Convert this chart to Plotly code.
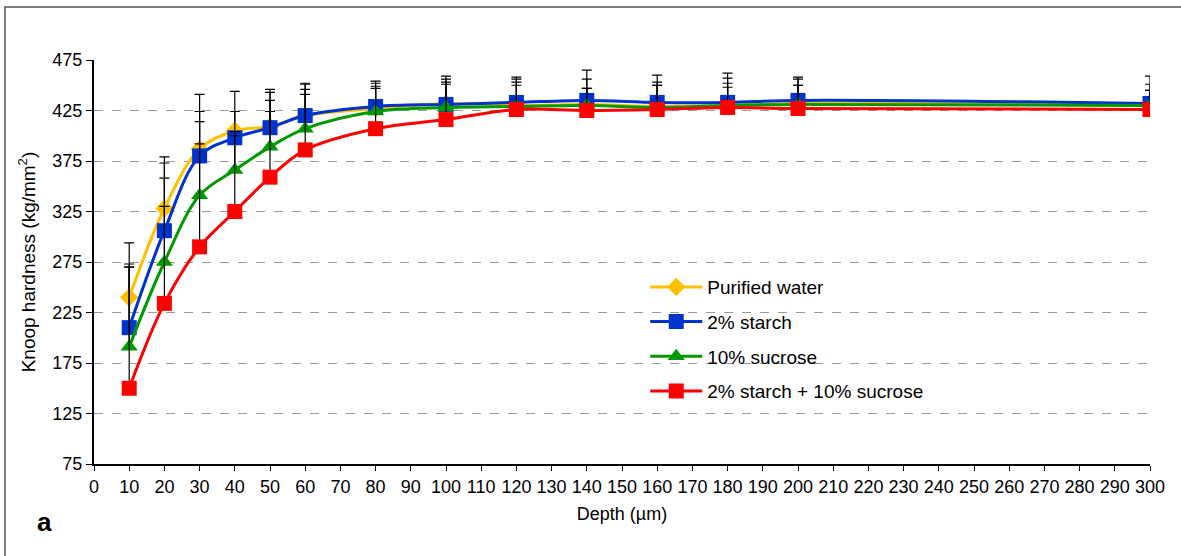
import plotly.graph_objects as go

depth = [10, 20, 30, 40, 50, 60, 80, 100, 120, 140, 160, 180, 200, 300]

water = [240, 328, 387, 405, 409, 420, 427, 432, 430, 431, 429, 430, 432, 430]
starch = [210, 306, 380, 398, 408, 420, 429, 431, 433, 435, 433, 433, 435, 432]
sucrose = [191, 275, 341, 366, 389, 407, 424, 428, 429, 430, 428, 430, 431, 430]
mixed = [150, 234, 290, 325, 359, 386, 407, 416, 426, 425, 426, 428, 427, 426]

water_err = [54, 51, 54, 39, 37, 32, 27, 24, 23, 25, 24, 27, 24, 21]
starch_err = [63, 67, 44, 26, 35, 31, 23, 28, 25, 30, 27, 29, 23, 27]
sucrose_err = [79, 83, 73, 38, 46, 39, 25, 25, 21, 17, 22, 18, 19, 15]
mixed_err = [120, 96, 102, 75, 65, 55, 40, 35, 30, 22, 24, 24, 23, 19]

names = ["Purified water", "2% starch", "10% sucrose", "2% starch + 10% sucrose"]
colors = ["#FFC000", "#0033CC", "#009900", "#FF0000"]
symbols = ["diamond", "square", "triangle-up", "square"]
sizes = [14, 15, 15, 15]

y_ticks = [75, 125, 175, 225, 275, 325, 375, 425, 475]
x_ticks = list(range(0, 301, 10))

FONT = "Liberation Sans, Arial, sans-serif"

fig = go.Figure()
for i, (ys, es) in enumerate([(water, water_err), (starch, starch_err),
                              (sucrose, sucrose_err), (mixed, mixed_err)]):
    fig.add_trace(go.Scatter(
        x=depth, y=ys, name=names[i], mode="lines+markers",
        legendgroup=f"g{i}",
        line=dict(color=colors[i], width=3, shape="spline", smoothing=1.0),
        marker=dict(symbol=symbols[i], size=sizes[i], color=colors[i]),
        error_y=dict(type="data", symmetric=False, array=es,
                     arrayminus=[0] * len(es), color="black",
                     thickness=1.2, width=5),
    ))

fig.update_layout(
    width=1181, height=556,
    paper_bgcolor="white", plot_bgcolor="white",
    margin=dict(l=94, r=31, t=60, b=92),
    font=dict(family=FONT, size=18, color="black"),
    showlegend=True,
    legend=dict(x=0.522, y=0.485, xanchor="left", yanchor="top",
                bgcolor="rgba(0,0,0,0)", font=dict(size=19),
                tracegroupgap=7, itemwidth=52),
    xaxis=dict(range=[0, 300], tickmode="array", tickvals=x_ticks,
               ticktext=[str(v) for v in x_ticks],
               showgrid=False, zeroline=False, showline=True,
               linecolor="black", linewidth=2, ticks="outside",
               ticklen=5, tickcolor="black",
               title=dict(text="Depth (µm)", font=dict(size=18), standoff=12)),
    yaxis=dict(range=[75, 475], tickmode="array", tickvals=y_ticks,
               ticktext=[str(v) for v in y_ticks],
               showgrid=True, gridcolor="#9a9a9a", griddash="dash",
               gridwidth=1, zeroline=False, showline=True,
               linecolor="black", linewidth=2, ticks="outside",
               ticklen=6, tickcolor="black",
               title=dict(text="Knoop hardness (kg/mm<sup>2</sup>)",
                          font=dict(size=19), standoff=12)),
    shapes=[dict(type="rect", xref="paper", yref="paper",
                 x0=-0.0843, x1=1.04, y0=-0.25, y1=1.131,
                 line=dict(color="#555555", width=1.5),
                 fillcolor="rgba(0,0,0,0)", layer="below")],
    annotations=[dict(text="<b>a</b>", xref="paper", yref="paper",
                      x=-0.056, y=-0.1436, xanchor="left", yanchor="middle",
                      showarrow=False, font=dict(size=26, family=FONT))],
)

fig.write_html("out.html", config={"displayModeBar": False},
               post_script="document.body.style.margin='0px';document.body.style.overflow='hidden';")
